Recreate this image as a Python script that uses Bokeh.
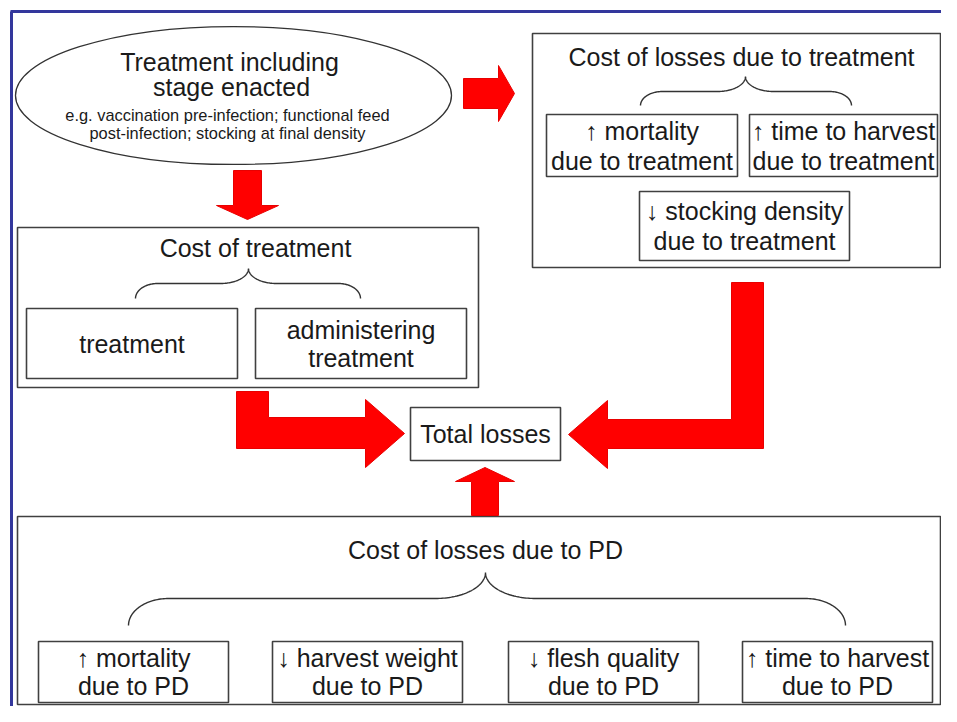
import numpy as np
from bokeh.plotting import figure
from bokeh.models import Range1d
from bokeh.core.properties import value
from bokeh.embed import file_html
from bokeh.resources import INLINE

# ---------------- texts ----------------
ellipse_title = ["Treatment including", "stage enacted"]
ellipse_note = ["e.g. vaccination pre-infection; functional feed",
                "post-infection; stocking at final density"]
group_titles = ["Cost of losses due to treatment", "Cost of treatment", "Cost of losses due to PD"]
treat_loss_items = [["\u2191 mortality", "due to treatment"],
                    ["\u2191 time to harvest", "due to treatment"],
                    ["\u2193 stocking density", "due to treatment"]]
treat_cost_items = [["treatment"], ["administering", "treatment"]]
pd_items = [["\u2191 mortality", "due to PD"],
            ["\u2193 harvest weight", "due to PD"],
            ["\u2193 flesh quality", "due to PD"],
            ["\u2191 time to harvest", "due to PD"]]
total_label = ["Total losses"]

# ---------------- layout (page pixels, y downwards) ----------------
group_boxes = [(532, 33, 940, 267), (17, 227, 478, 387), (17, 516, 940, 704)]
group_title_pos = [(741, 56), (255, 247), (485, 549)]
treat_loss_boxes = [(546, 114, 737, 176), (749, 114, 937, 176), (639, 191, 849, 260)]
treat_cost_boxes = [(26, 308, 237, 378), (255, 308, 466, 378)]
pd_boxes = [(38, 641, 228, 702), (272, 641, 462, 702), (508, 641, 698, 702), (742, 641, 932, 702)]
total_box = [(410, 407, 560, 460)]
# braces: x0, x1, xc, ytop, ylevel, yend, r_end, r_mid
braces = [(640, 851, 745, 76, 91, 105, 22, 28),
          (135, 360, 248, 268, 283, 298, 22, 28),
          (128, 845, 485, 572, 598, 625, 40, 50)]
ellipse_geo = (233, 95, 436, 138)

FONT = value("'Liberation Sans', 'DejaVu Sans', sans-serif")
TXT = "#1a1a1a"
EDGE = "#404040"
RED = "#ff0000"
BIG = "25px"

p = figure(width=941, height=706, x_range=Range1d(0, 941), y_range=Range1d(706, 0),
           output_backend="svg", toolbar_location=None, tools="", min_border=0)
p.axis.visible = False
p.grid.visible = False
p.outline_line_color = None
p.background_fill_color = "white"
p.border_fill_color = "white"

# blue frame (top and left)
p.line([10, 960], [11, 11], line_color="#33379c", line_width=3)
p.line([11, 11], [11, 730], line_color="#33379c", line_width=3)

# ellipse
ex, ey, ew, eh = ellipse_geo
p.ellipse(x=[ex], y=[ey], width=[ew], height=[eh], fill_color="white",
          line_color="#333333", line_width=1.3)


def boxes(lst):
    p.quad(left=[b[0] for b in lst], right=[b[2] for b in lst],
           top=[b[1] for b in lst], bottom=[b[3] for b in lst],
           fill_color="white", line_color=EDGE, line_width=1.6)


def box_texts(lst, items, dy=14.5, size=BIG):
    xs, ys, ts = [], [], []
    for b, lines in zip(lst, items):
        cx = (b[0] + b[2]) / 2
        cy = (b[1] + b[3]) / 2
        n = len(lines)
        for i, t in enumerate(lines):
            xs.append(cx)
            ys.append(cy + (i - (n - 1) / 2) * 2 * dy)
            ts.append(t)
    p.text(x=xs, y=ys, text=ts, text_font=FONT, text_font_size=size,
           text_align="center", text_baseline="middle", text_color=TXT)


boxes(group_boxes)
boxes(treat_loss_boxes)
boxes(treat_cost_boxes)
boxes(pd_boxes)
boxes(total_box)

# group titles
p.text(x=[q[0] for q in group_title_pos], y=[q[1] for q in group_title_pos], text=group_titles,
       text_font=FONT, text_font_size=BIG, text_align="center",
       text_baseline="middle", text_color=TXT)

box_texts(treat_loss_boxes, treat_loss_items, dy=15)
box_texts(treat_cost_boxes, treat_cost_items, dy=14)
box_texts(pd_boxes, pd_items, dy=14)
box_texts(total_box, [total_label])

# ellipse texts
p.text(x=[229, 231], y=[61, 86], text=ellipse_title, text_font=FONT, text_font_size=BIG,
       text_align="center", text_baseline="middle", text_color=TXT)
p.text(x=[227, 227], y=[114, 132], text=ellipse_note, text_font=FONT, text_font_size="16.4px",
       text_align="center", text_baseline="middle", text_color=TXT)

# braces
t = np.linspace(0, np.pi / 2, 40)
for x0, x1, xc, ytop, ylev, yend, re, rm in braces:
    lx = x0 + re - re * np.cos(t)
    ly = yend - (yend - ylev) * np.sin(t)
    cxl = xc - rm + rm * np.sin(t)
    cyl = ytop + (ylev - ytop) * np.cos(t)
    cxr = xc + rm * (1 - np.cos(t))
    cyr = ytop + (ylev - ytop) * np.sin(t)
    rx = x1 - re + re * np.sin(t)
    ry = ylev + (yend - ylev) * (1 - np.cos(t))
    p.line(np.concatenate([lx, cxl, cxr, rx]), np.concatenate([ly, cyl, cyr, ry]),
           line_color="#333333", line_width=1.4)


# arrows (polygons built from arrow parameters)
def h_arrow(x_tail, x_base, x_tip, yc, body, head):
    return ([x_tail, x_base, x_base, x_tip, x_base, x_base, x_tail],
            [yc - body / 2, yc - body / 2, yc - head / 2, yc, yc + head / 2, yc + body / 2, yc + body / 2])


def v_arrow(xc, y_tail, y_base, y_tip, body, head):
    ys, xs = h_arrow(y_tail, y_base, y_tip, xc, body, head)
    return xs, ys


arrows = [
    h_arrow(463, 498, 514, 93, 30, 56),
    v_arrow(247, 170, 205, 219, 28, 62),
    v_arrow(484.5, 515, 481, 467, 27, 59),
    # left L-arrow
    ([236, 268, 268, 365, 365, 404, 365, 365, 236],
     [391, 391, 417, 417, 399, 433, 467, 448, 448]),
    # right L-arrow
    ([731, 763, 763, 607, 607, 568, 607, 607, 731],
     [282, 282, 448, 448, 468, 434, 400, 419, 419]),
]
p.patches([a[0] for a in arrows], [a[1] for a in arrows], fill_color=RED,
          line_color="#e80000", line_width=1)

open("out.html", "w").write(file_html(p, INLINE))
